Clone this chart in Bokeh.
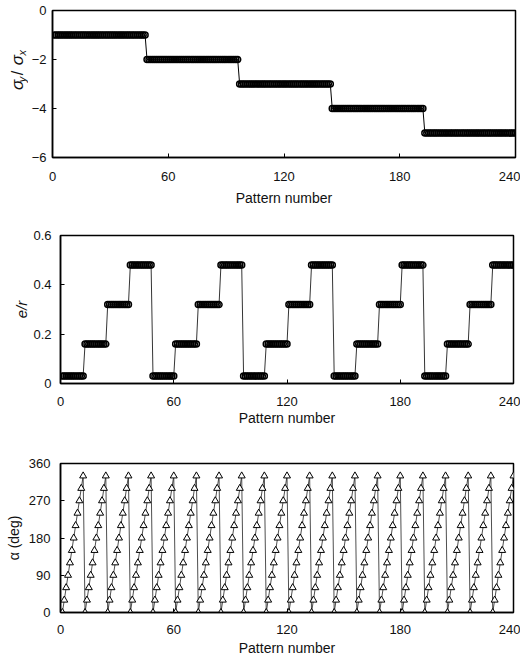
import numpy as np
from bokeh.plotting import figure
from bokeh.layouts import column, row
from bokeh.models import FixedTicker, ColumnDataSource
from bokeh.core.properties import value
from bokeh.embed import file_html
from bokeh.resources import INLINE

# ---- data (factorial loading design) ----
stress_ratio_levels = [-1, -2, -3, -4, -5]          # sigma_y / sigma_x
e_r_levels = [0.03, 0.16, 0.32, 0.48]              # e/r
alpha_levels = [0, 30, 60, 90, 120, 150, 180, 210, 240, 270, 300, 330]  # deg
n_patterns = 240

x_ticks = [0, 60, 120, 180, 240]
y1_ticks = [0, -2, -4, -6]
y2_ticks = [0, 0.2, 0.4, 0.6]
y3_ticks = [0, 90, 180, 270, 360]

pattern = np.arange(1, n_patterns + 1)
n_a = len(alpha_levels)
n_e = len(e_r_levels)
sr = np.repeat(stress_ratio_levels, n_a * n_e)
er = np.tile(np.repeat(e_r_levels, n_a), len(stress_ratio_levels))
al = np.tile(alpha_levels, n_e * len(stress_ratio_levels))
src = ColumnDataSource(dict(x=pattern, sr=sr, er=er, al=al))

FONT = "Liberation Sans"
TXT = "#111111"


def make_fig(width, height, bl, br, bt, bb, yr, yticks, tick_sd, lab_sd):
    p = figure(width=width, height=height, x_range=(0, 240), y_range=yr,
               output_backend="svg", toolbar_location=None,
               min_border_left=bl, min_border_right=br,
               min_border_top=bt, min_border_bottom=bb)
    p.grid.visible = False
    p.outline_line_color = "black"
    p.outline_line_width = 1.5
    for ax in (p.xaxis[0], p.yaxis[0]):
        ax.axis_line_width = 1.5
        ax.major_tick_in = 4
        ax.major_tick_out = 0
        ax.minor_tick_in = 0
        ax.minor_tick_out = 0
        ax.major_label_text_font = FONT
        ax.major_label_text_font_size = "13px"
        ax.major_label_text_color = TXT
        ax.axis_label_text_font = FONT
        ax.axis_label_text_font_size = "14px"
        ax.axis_label_text_font_style = "normal"
        ax.axis_label_text_color = TXT
    p.xaxis.ticker = FixedTicker(ticks=x_ticks)
    p.yaxis.ticker = FixedTicker(ticks=yticks)
    p.xaxis.axis_label = "Pattern number"
    p.xaxis.major_label_standoff = tick_sd
    p.xaxis.axis_label_standoff = lab_sd
    p.yaxis.major_label_standoff = 10
    p.yaxis.axis_label_standoff = 4
    return p


# ---- top: stress ratio ----
H1 = 209
LW = 28
lab = figure(width=LW, height=H1, x_range=(0, LW), y_range=(0, H1),
             output_backend="svg", toolbar_location=None,
             x_axis_location=None, y_axis_location=None,
             min_border_left=0, min_border_right=0, min_border_top=0,
             min_border_bottom=0, outline_line_color=None)
lab.grid.visible = False
# y label "σy / σx" built from pieces, rotated (baseline x, start y)
lab_text = ["σ", "y", "/", "σ", "x"]
lab_x = [17, 21, 17, 17, 21]
lab_y = [96, 107, 117, 131, 145]
lab_size = ["17px", "11px", "16px", "17px", "11px"]
lab_style = ["italic", "italic", "normal", "italic", "italic"]
for t, xx, yy, fs, st in zip(lab_text, lab_x, lab_y, lab_size, lab_style):
    lab.text(x=[xx], y=[yy], text=[t], angle=np.pi / 2,
             text_font=value(FONT), text_font_size=value(fs),
             text_font_style=st, text_color=TXT,
             text_align="left", text_baseline="alphabetic")

p1 = make_fig(520 - LW, H1, 24, 5, 10, 52, (-6, 0), y1_ticks, 14, 6)
p1.yaxis.major_label_standoff = 6
p1.line("x", "sr", source=src, line_color="black", line_width=1)
p1.scatter("x", "sr", source=src, marker="circle", size=6,
           fill_color=None, line_color="black", line_width=1.5)

# ---- middle: e/r ----
p2 = make_fig(520, 220, 57, 5, 26, 46, (0, 0.6), y2_ticks, 13, 1)
p2.yaxis.major_label_overrides = {0: "0"}
p2.yaxis.axis_label = "e/r"
p2.yaxis.axis_label_text_font_style = "italic"
p2.yaxis.axis_label_text_font_size = "15px"
p2.yaxis.axis_label_standoff = 0
p2.yaxis.major_label_standoff = 9
p2.line("x", "er", source=src, line_color="black", line_width=0.8)
p2.scatter("x", "er", source=src, marker="circle", size=6,
           fill_color=None, line_color="black", line_width=1.5)

# ---- bottom: alpha ----
p3 = make_fig(520, 230, 60, 7, 34, 47, (0, 360), y3_ticks, 12, 3)
p3.yaxis.axis_label = "α (deg)"
p3.line("x", "al", source=src, line_color="#222222", line_width=0.8)
p3.scatter("x", "al", source=src, marker="triangle", size=7,
           fill_color="white", line_color="black", line_width=1)

layout = column(row(lab, p1, spacing=0), p2, p3, spacing=0)
open("out.html", "w").write(file_html(layout, INLINE))
